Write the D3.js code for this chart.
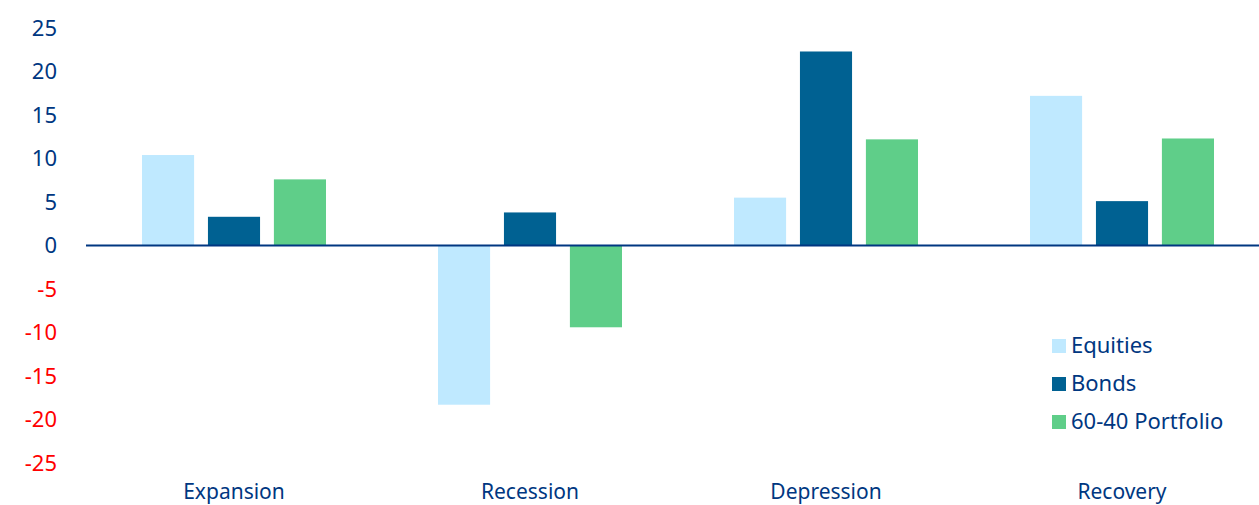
<!DOCTYPE html>
<html lang="en">
<head>
    <meta charset="UTF-8">
    <title>Returns by cycle phase</title>
    <script src="https://d3js.org/d3.v7.min.js"></script>
    <style>
        body { margin: 0; background: #fff; }
        text { font-family: "Noto Sans", sans-serif; }
    </style>
</head>
<body>
    <svg id="chart"></svg>
    <script>
    // data
    const phases = ["Expansion", "Recession", "Depression", "Recovery"];
    const seriesNames = ["Equities", "Bonds", "60-40 Portfolio"];
    const equities = [10.4, -18.3, 5.5, 17.2];
    const bonds = [3.3, 3.8, 22.3, 5.1];
    const portfolio = [7.6, -9.4, 12.2, 12.3];
    const yTicks = [25, 20, 15, 10, 5, 0, -5, -10, -15, -20, -25];

    const colors = ["#bfe9ff", "#006192", "#5fce89"];
    const navy = "#003781";

    const width = 1259, height = 505;

    const svg = d3.select("#chart")
        .attr("width", width)
        .attr("height", height);

    const x = d3.scaleBand()
        .domain(phases)
        .range([86, 1270])
        .paddingInner(0)
        .paddingOuter(0);

    const xInner = d3.scaleBand()
        .domain(seriesNames)
        .range([56, 240])
        .paddingInner(0.21);

    const y = d3.scaleLinear()
        .domain([-25, 25])
        .range([463, 28]);

    // y tick labels, red when negative
    svg.append("g")
        .selectAll("text")
        .data(yTicks)
        .enter().append("text")
        .attr("x", 57)
        .attr("y", d => y(d))
        .attr("dy", "0.35em")
        .attr("text-anchor", "end")
        .style("font-size", "22px")
        .style("fill", d => d < 0 ? "#ff0000" : navy)
        .text(d => d);

    const rows = phases.map((p, i) => ({
        phase: p,
        values: [equities[i], bonds[i], portfolio[i]]
    }));

    const groups = svg.selectAll(".grp")
        .data(rows)
        .enter().append("g")
        .attr("class", "grp")
        .attr("transform", d => `translate(${x(d.phase)},0)`);

    groups.selectAll("rect")
        .data(d => d.values.map((v, j) => ({ name: seriesNames[j], v: v, j: j })))
        .enter().append("rect")
        .attr("x", d => xInner(d.name))
        .attr("width", xInner.bandwidth())
        .attr("y", d => y(Math.max(0, d.v)))
        .attr("height", d => Math.abs(y(d.v) - y(0)))
        .attr("fill", d => colors[d.j]);

    // zero line
    svg.append("line")
        .attr("x1", 86)
        .attr("x2", width)
        .attr("y1", y(0))
        .attr("y2", y(0))
        .attr("stroke", navy)
        .attr("stroke-width", 2);

    // category labels
    svg.append("g")
        .selectAll("text")
        .data(phases)
        .enter().append("text")
        .attr("x", d => x(d) + x.bandwidth() / 2)
        .attr("y", 492)
        .attr("dy", "0.35em")
        .attr("text-anchor", "middle")
        .style("font-size", "21px")
        .style("fill", navy)
        .text(d => d);

    // legend
    const legend = svg.append("g")
        .attr("transform", "translate(1052,339)");

    const items = legend.selectAll("g")
        .data(seriesNames)
        .enter().append("g")
        .attr("transform", (d, i) => `translate(0,${i * 38})`);

    items.append("rect")
        .attr("width", 14)
        .attr("height", 14)
        .attr("fill", (d, i) => colors[i]);

    items.append("text")
        .attr("x", 19)
        .attr("y", 6)
        .attr("dy", "0.35em")
        .style("font-size", "22px")
        .style("fill", navy)
        .text(d => d);
    </script>
</body>
</html>
